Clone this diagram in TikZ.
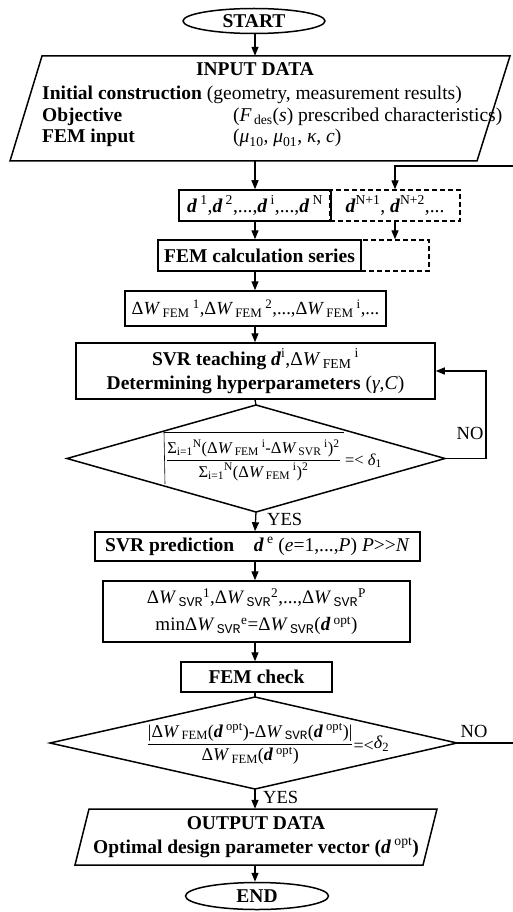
\documentclass[tikz,border=0pt]{standalone}
\usepackage{amsmath}
\usepackage{fontspec}
\setmainfont{Liberation Serif}
\newfontfamily\monofont{Liberation Mono}
\usetikzlibrary{arrows.meta,shapes.geometric}
\newcommand\BI[1]{\textbf{\textit{#1}}}
\newcommand\dW{Δ\textit{W}}
\newcommand\sbs[1]{\textsubscript{#1}}
\newcommand\sps[1]{\textsuperscript{#1}}
\newcommand\fem{\sbs{\,FEM}}
\newcommand\svr{\sbs{\,\monofont SVR}}
\tikzset{
  txt/.style={font=\fontsize{19.5}{24}\selectfont, inner sep=0pt},
  box/.style={draw, line width=1.5pt, rectangle, inner sep=0pt, align=center, font=\fontsize{19.5}{24}\selectfont},
  dbox/.style={draw, line width=1.4pt, dash pattern=on 5pt off 3pt, rectangle, inner sep=0pt, align=center, font=\fontsize{19.5}{24}\selectfont},
  term/.style={draw, ellipse, line width=1.5pt, inner sep=0pt, font=\fontsize{19.5}{24}\selectfont\bfseries},
  ghost/.style={inner sep=0pt, minimum width=100pt},
  arr/.style={line width=1.3pt, -{Triangle[length=9pt,width=7pt]}},
  link/.style={line width=1.3pt},
  lbl/.style={font=\fontsize{18.5}{22}\selectfont, inner sep=0pt},
  shp/.style={line width=1.5pt, line join=miter},
  frac/.style={font=\fontsize{18}{22}\selectfont, inner sep=0pt}
}
\begin{document}
\begin{tikzpicture}[x=1pt,y=-1pt]
\useasboundingbox (0,0) rectangle (512,912);
\coordinate (col) at (255,0);

% START
\node[term, minimum width=142pt, minimum height=25pt] (start) at (254,21) {START};

% INPUT DATA
\draw[shp] (42,56) -- (510,56) -- (477,161) -- (10,161) -- cycle;
\node[ghost, minimum height=105pt] (input) at (255,108.5) {};
\node[txt, anchor=base] (inhead) at (255,76) {\textbf{INPUT DATA}};
\node[txt, anchor=base west] (in1) at (42,100) {\textbf{Initial construction} (geometry, measurement results)};
\node[txt, anchor=base west] (in2a) at (42,121.5) {\textbf{Objective}};
\node[txt, anchor=base west] (in2b) at (233,121.5) {(\textit{F}\sbs{\,des}(\textit{s}) prescribed characteristics)};
\node[txt, anchor=base west] (in3a) at (42,143) {\textbf{FEM input}};
\node[txt, anchor=base west] (in3b) at (233,143) {(\textit{μ}\sbs{10}, \textit{μ}\sbs{01}, \textit{κ}, \textit{c})};

% dashed boxes (drawn first)
\node[dbox, minimum width=130pt, minimum height=31pt] (dash1) at (395,205.5) {\BI{d}\sps{N+1}, \BI{d}\sps{N+2},...};
\node[dbox, minimum width=68pt, minimum height=31pt] (dash2) at (395,255.5) {};

% boxes
\node[box, minimum width=152pt, minimum height=31pt] (dvec) at (255,205.5) {\BI{d}\,\sps{1},\BI{d}\,\sps{2},...,\BI{d}\,\sps{i},...,\BI{d}\,\sps{N}};
\node[box, minimum width=203pt, minimum height=31pt] (fem) at (259.5,255.5) {\textbf{FEM calculation series}};
\node[box, minimum width=261pt, minimum height=35pt, font=\fontsize{18.5}{22}\selectfont] (dwf) at (255.5,308.5) {\dW\fem\,\sps{1},\dW\fem\,\sps{2},...,\dW\fem\,\sps{i},...};
\node[box, minimum width=359pt, minimum height=56pt] (svrt) at (255.5,371) {\textbf{SVR teaching \textit{d}}\sps{i},\dW\fem\,\sps{i}\\\textbf{Determining hyperparameters} (\textit{γ},\textit{C})};

% decision 1
\coordinate (d1t) at (256,405);
\coordinate (d1r) at (445,458.5);
\coordinate (d1b) at (256,512);
\coordinate (d1l) at (67,458.5);
\draw[shp] (d1t) -- (d1r) -- (d1b) -- (d1l) -- cycle;
\draw[line width=0.6pt] (164,432) -- (344,432);
\draw[line width=0.6pt] (164,432) -- (165,484);
\node[frac, font=\fontsize{16.5}{20}\selectfont] (f1) at (274,460) {$\dfrac{\text{Σ\sbs{i=1}\sps{N}(\dW\fem\,\sps{i}-\dW\sbs{\,SVR}\,\sps{i})\sps{2}}}{\text{Σ\sbs{i=1}\sps{N}(\dW\fem\,\sps{i})\sps{2}}}\text{ =< \textit{δ}\sbs{1}}$};
\node[lbl] (no1) at (470,433) {NO};
\node[lbl, anchor=west] (yes1) at (267,519) {YES};

\node[box, minimum width=325pt, minimum height=29pt] (svrp) at (257.5,546.5) {\textbf{SVR prediction}\quad\BI{d}\,\sps{e} (\textit{e}=1,...,\textit{P}) \textit{P}>\kern0pt>\kern0pt\textit{N}};
\node[box, minimum width=307pt, minimum height=61pt, font=\fontsize{19}{27}\selectfont] (svrl) at (256.5,611.5) {\dW\svr\sps{1},\dW\svr\sps{2},...,\dW\svr\sps{P}\\min\dW\svr\sps{e}=\dW\svr(\BI{d}\,\sps{opt})};
\node[box, minimum width=151pt, minimum height=30pt] (femc) at (256.5,677) {\textbf{FEM check}};

% decision 2
\coordinate (d2t) at (255,697);
\coordinate (d2r) at (457,743);
\coordinate (d2b) at (255,789);
\coordinate (d2l) at (50,743);
\draw[shp] (d2t) -- (d2r) -- (d2b) -- (d2l) -- cycle;
\node[frac] (f2) at (268,744) {$\dfrac{\text{|\dW\fem(\BI{d}\,\sps{opt})-\dW\svr(\BI{d}\,\sps{opt})|}}{\text{\dW\fem(\BI{d}\,\sps{opt})}}\text{\raisebox{-3pt}{=<}\textit{δ}\sbs{2}}$};
\node[lbl] (no2) at (474,731) {NO};
\node[lbl, anchor=west] (yes2) at (263,797) {YES};

% OUTPUT DATA
\draw[shp] (89,809) -- (437,809) -- (423,865) -- (75,865) -- cycle;
\node[ghost, minimum height=56pt] (output) at (255,837) {};
\node[txt, align=center] (outtxt) at (256,837) {\textbf{OUTPUT DATA}\\\textbf{Optimal design parameter vector (\textit{d}}\,\sps{opt}\textbf{)}};

% END
\node[term, minimum width=143pt, minimum height=27pt] (end) at (257,896) {END};

% connectors
\draw[arr] (start.south -| col) -- (input.north -| col);
\draw[arr] (input.south -| col) -- (dvec.north -| col);
\draw[arr] (dvec.south -| col) -- (fem.north -| col);
\draw[arr] (dash1.south) -- (dash2.north);
\draw[arr] (fem.south -| col) -- (dwf.north -| col);
\draw[arr] (dwf.south -| col) -- (svrt.north -| col);
\draw[link] (svrt.south -| col) -- (d1t);
\coordinate (lp1) at (486,458.5);
\draw[arr] (d1r) -- (lp1) |- (svrt.east);
\draw[arr] (d1b) -- (svrp.north -| col);
\draw[arr] (svrp.south -| col) -- (svrl.north -| col);
\draw[arr] (svrl.south -| col) -- (femc.north -| col);
\draw[link] (femc.south -| col) -- (d2t);
\coordinate (lp2) at (516,166);
\draw[arr] (d2r) -| (lp2) -| (dash1.north);
\draw[arr] (d2b) -- (output.north -| col);
\draw[arr] (output.south -| col) -- (end.north -| col);
\end{tikzpicture}
\end{document}
